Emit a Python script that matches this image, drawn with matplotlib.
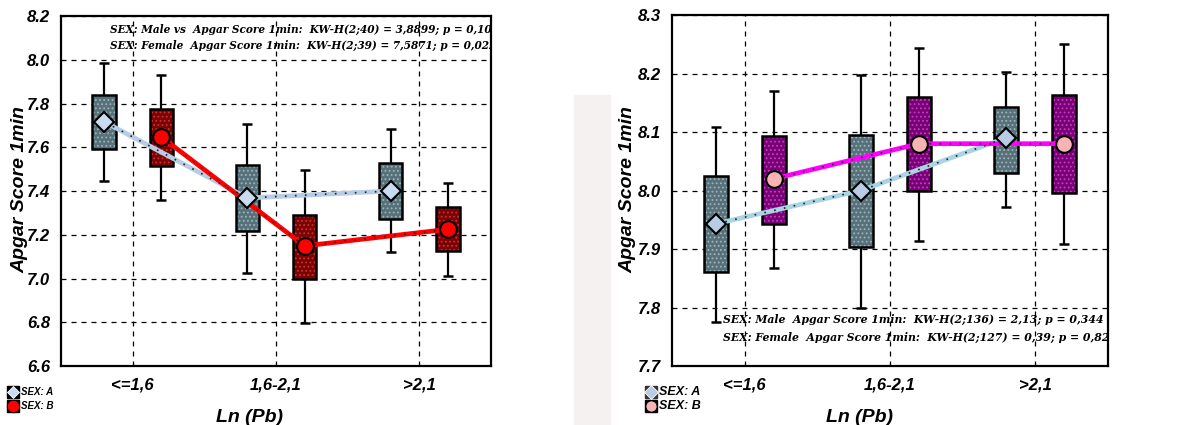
import numpy as np
import matplotlib.pyplot as plt
from matplotlib.patches import Rectangle
from matplotlib.lines import Line2D

# Pb exposure groups
groups = ["<=1,6", "1,6-2,1", ">2,1"]

# left panel: Apgar score 1 min, sex A / B
l_mean_a = [7.717, 7.368, 7.400]
l_q1_a = [7.590, 7.216, 7.270]
l_q3_a = [7.840, 7.517, 7.530]
l_lo_a = [7.446, 7.027, 7.120]
l_hi_a = [7.987, 7.705, 7.683]

l_mean_b = [7.647, 7.149, 7.225]
l_q1_b = [7.514, 7.000, 7.124]
l_q3_b = [7.776, 7.289, 7.325]
l_lo_b = [7.359, 6.795, 7.011]
l_hi_b = [7.932, 7.495, 7.438]

# right panel
r_mean_a = [7.943, 8.000, 8.090]
r_q1_a = [7.860, 7.903, 8.030]
r_q3_a = [8.025, 8.095, 8.143]
r_lo_a = [7.776, 7.800, 7.972]
r_hi_a = [8.109, 8.198, 8.203]

r_mean_b = [8.020, 8.080, 8.080]
r_q1_b = [7.943, 8.000, 7.996]
r_q3_b = [8.093, 8.159, 8.164]
r_lo_b = [7.867, 7.914, 7.909]
r_hi_b = [8.170, 8.244, 8.251]

l_notes = ["SEX: Male vs  Apgar Score 1min:  KW-H(2;40) = 3,8899; p = 0,10",
           "SEX: Female  Apgar Score 1min:  KW-H(2;39) = 7,5871; p = 0,022"]
r_notes = ["SEX: Male  Apgar Score 1min:  KW-H(2;136) = 2,13; p = 0,344",
           "SEX: Female  Apgar Score 1min:  KW-H(2;127) = 0,39; p = 0,82"]

plt.rcParams['hatch.linewidth'] = 0.8

fig = plt.figure(figsize=(11.93, 4.25), dpi=100)

# faint watermark band in the middle
fig.patches.append(Rectangle((574 / 1193, 0), 36 / 1193, 330 / 425,
                             transform=fig.transFigure, color="#f5f1f1", zorder=0))

ax1 = fig.add_axes([61 / 1193, 1 - 366 / 425, 430 / 1193, 350 / 425])
ax2 = fig.add_axes([672 / 1193, 1 - 366 / 425, 436 / 1193, 351 / 425])

x = np.arange(len(groups))
off = 0.2
bw = 0.165


def boxes(ax, pos, q1, q3, lo, hi, face, dots):
    q1 = np.array(q1)
    q3 = np.array(q3)
    ax.vlines(pos, lo, hi, color="black", lw=1.6, zorder=3)
    ax.hlines(lo, pos - 0.035, pos + 0.035, color="black", lw=1.8, zorder=3)
    ax.hlines(hi, pos - 0.035, pos + 0.035, color="black", lw=1.8, zorder=3)
    # dotted texture, then outline
    ax.bar(pos, q3 - q1, bottom=q1, width=bw, color=face, edgecolor=dots,
           hatch="....", lw=0, zorder=4)
    ax.bar(pos, q3 - q1, bottom=q1, width=bw, fill=False, edgecolor="black",
           lw=1.8, zorder=5)


def mean_line(ax, pos, m, color, marker, mface, ms):
    ax.plot(pos, m, color=color, lw=3.4, zorder=6, solid_capstyle="butt")
    ax.plot(pos, m, color="#222222", lw=1.2, ls=(0, (1, 5)), zorder=7)
    ax.plot(pos, m, ls="none", marker=marker, ms=ms, mfc=mface, mec="black",
            mew=1.5, zorder=8)


panels = [
    (ax1, (6.6, 8.2), np.arange(6.6, 8.21, 0.2),
     (l_mean_a, l_q1_a, l_q3_a, l_lo_a, l_hi_a),
     (l_mean_b, l_q1_b, l_q3_b, l_lo_b, l_hi_b),
     "#56717a", "#9fb3b8", "#7e0000", "#b83a3a",
     "#b7cde6", "#ff0000", "#c9dbef", "#ff0000"),
    (ax2, (7.7, 8.3), np.arange(7.7, 8.31, 0.1),
     (r_mean_a, r_q1_a, r_q3_a, r_lo_a, r_hi_a),
     (r_mean_b, r_q1_b, r_q3_b, r_lo_b, r_hi_b),
     "#56717a", "#9fb3b8", "#760074", "#c63cc4",
     "#a9d4e4", "#ff00ff", "#b9cce6", "#f7b4b4"),
]

for ax, ylim, yt, A, B, fa, da, fb, db, la, lb, ma, mb in panels:
    boxes(ax, x - off, A[1], A[2], A[3], A[4], fa, da)
    boxes(ax, x + off, B[1], B[2], B[3], B[4], fb, db)
    mean_line(ax, x - off, A[0], la, "D", ma, 10)
    mean_line(ax, x + off, B[0], lb, "o", mb, 12)

    ax.set_xlim(-0.5, 2.5)
    ax.set_ylim(*ylim)
    ax.set_yticks(yt)
    ax.set_yticklabels([f"{v:.1f}" for v in yt])
    ax.set_xticks(x)
    ax.set_xticklabels(groups)
    ax.grid(True, color="black", ls=(0, (4, 4)), lw=0.9)
    ax.set_axisbelow(True)
    ax.tick_params(length=0, pad=8)
    for lab in ax.get_xticklabels() + ax.get_yticklabels():
        lab.set_fontsize(12)
        lab.set_fontweight("bold")
        lab.set_fontstyle("italic")
        lab.set_family("Liberation Sans")
    for s in ax.spines.values():
        s.set_linewidth(1.6)

for xc in (20, 628):
    fig.text(xc / 1193, 1 - 190 / 425, "Apgar Score 1min", rotation=90,
             ha="center", va="center", fontsize=14, fontweight="bold",
             fontstyle="italic", family="Liberation Sans")

# test statistics
for i, t in enumerate(l_notes):
    ax1.text(0.114, 0.977 - i * 0.045, t, transform=ax1.transAxes, fontsize=7.6,
             family="DejaVu Serif", fontweight="bold", fontstyle="italic",
             va="top", clip_on=True, zorder=9)
for i, t in enumerate(r_notes):
    ax2.text(0.117, 0.148 - i * 0.05, t, transform=ax2.transAxes, fontsize=7.8,
             family="DejaVu Serif", fontweight="bold", fontstyle="italic",
             va="top", clip_on=True, zorder=9)

for xc in (250, 860):
    fig.text(xc / 1193, 1 - 417 / 425, "Ln (Pb)", ha="center", va="center",
             fontsize=14, fontweight="bold", fontstyle="italic",
             family="Liberation Sans")

# small legends under each panel
legs = [
    (13, [("D", "#c9dbef", "SEX: A", "black", 6, "white"),
          ("o", "#ff0000", "SEX: B", "black", 9, "black")], 7),
    (651, [("D", "#b9cce6", "SEX: A", "#333333", 7, "white"),
           ("o", "#f7b4b4", "SEX: B", "black", 8, "black")], 9),
]
for lx, items, fs in legs:
    for j, (mk, mf, lab, sq, msz, me) in enumerate(items):
        ly = 1 - (392 + j * 14) / 425
        fig.add_artist(Rectangle(((lx - 6) / 1193, ly - 6 / 425), 12 / 1193, 12 / 425,
                                 transform=fig.transFigure, color=sq, zorder=10))
        fig.add_artist(Line2D([lx / 1193], [ly], transform=fig.transFigure,
                              marker=mk, ms=msz, mfc=mf, mec=me, mew=0.6,
                              ls="none", zorder=11))
        fig.text((lx + 8) / 1193, ly, lab, va="center", fontsize=fs,
                 fontweight="bold", fontstyle="italic", family="Liberation Sans",
                 zorder=12)

fig.savefig("out.png", dpi=100)
